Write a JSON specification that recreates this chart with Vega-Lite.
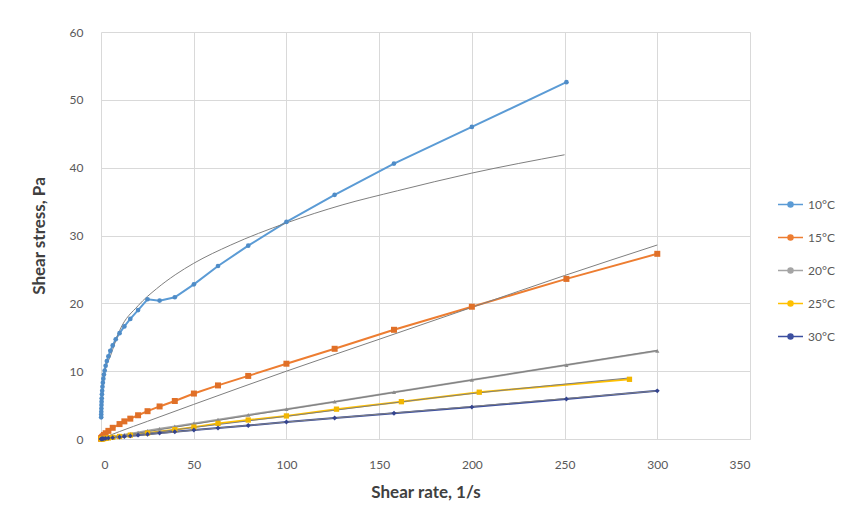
{
  "$schema": "https://vega.github.io/schema/vega-lite/v6.json",
  "width": 649,
  "height": 407,
  "autosize": {"type": "none"},
  "padding": {"left": 101, "top": 32, "right": 113, "bottom": 84},
  "background": "white",
  "config": {
    "view": {"stroke": null},
    "font": "Lato",
    "axis": {
      "gridColor": "#d9d9d9",
      "gridWidth": 1,
      "ticks": false,
      "labelColor": "#595959",
      "labelFont": "Lato",
      "labelFontSize": 12,
      "titleFont": "Lato",
      "titleFontSize": 17,
      "titleFontWeight": "bold",
      "titleColor": "#404040"
    }
  },
  "datasets": {
    "obs": [
      {"s": "10°C", "x": 0.1, "y": 3.2}, {"s": "10°C", "x": 0.126, "y": 3.6}, {"s": "10°C", "x": 0.158, "y": 4.0}, {"s": "10°C", "x": 0.2, "y": 4.5}, {"s": "10°C", "x": 0.251, "y": 5.0}, {"s": "10°C", "x": 0.316, "y": 5.5}, {"s": "10°C", "x": 0.398, "y": 6.0}, {"s": "10°C", "x": 0.501, "y": 6.6}, {"s": "10°C", "x": 0.631, "y": 7.1}, {"s": "10°C", "x": 0.794, "y": 7.7}, {"s": "10°C", "x": 1, "y": 8.3}, {"s": "10°C", "x": 1.26, "y": 8.9}, {"s": "10°C", "x": 1.58, "y": 9.5}, {"s": "10°C", "x": 2, "y": 10.1}, {"s": "10°C", "x": 2.51, "y": 10.8}, {"s": "10°C", "x": 3.16, "y": 11.5}, {"s": "10°C", "x": 3.98, "y": 12.2}, {"s": "10°C", "x": 5.01, "y": 13.0}, {"s": "10°C", "x": 6.31, "y": 13.8}, {"s": "10°C", "x": 7.94, "y": 14.7}, {"s": "10°C", "x": 10, "y": 15.6}, {"s": "10°C", "x": 12.6, "y": 16.6}, {"s": "10°C", "x": 15.8, "y": 17.7}, {"s": "10°C", "x": 20, "y": 19.0}, {"s": "10°C", "x": 25.1, "y": 20.6}, {"s": "10°C", "x": 31.6, "y": 20.4}, {"s": "10°C", "x": 39.8, "y": 20.9}, {"s": "10°C", "x": 50.1, "y": 22.8}, {"s": "10°C", "x": 63.1, "y": 25.5}, {"s": "10°C", "x": 79.4, "y": 28.5}, {"s": "10°C", "x": 100, "y": 32.0}, {"s": "10°C", "x": 126, "y": 36.0}, {"s": "10°C", "x": 158, "y": 40.6}, {"s": "10°C", "x": 200, "y": 46.0}, {"s": "10°C", "x": 251, "y": 52.6},
      {"s": "15°C", "x": 0.1, "y": 0.05}, {"s": "15°C", "x": 0.158, "y": 0.08}, {"s": "15°C", "x": 0.251, "y": 0.12}, {"s": "15°C", "x": 0.398, "y": 0.18}, {"s": "15°C", "x": 0.631, "y": 0.27}, {"s": "15°C", "x": 1, "y": 0.4}, {"s": "15°C", "x": 1.58, "y": 0.6}, {"s": "15°C", "x": 2.51, "y": 0.85}, {"s": "15°C", "x": 3.98, "y": 1.2}, {"s": "15°C", "x": 6.31, "y": 1.65}, {"s": "15°C", "x": 10, "y": 2.2}, {"s": "15°C", "x": 12.6, "y": 2.6}, {"s": "15°C", "x": 15.8, "y": 3.0}, {"s": "15°C", "x": 20, "y": 3.5}, {"s": "15°C", "x": 25.1, "y": 4.1}, {"s": "15°C", "x": 31.6, "y": 4.8}, {"s": "15°C", "x": 39.8, "y": 5.6}, {"s": "15°C", "x": 50.1, "y": 6.7}, {"s": "15°C", "x": 63.1, "y": 7.9}, {"s": "15°C", "x": 79.4, "y": 9.3}, {"s": "15°C", "x": 100, "y": 11.1}, {"s": "15°C", "x": 126, "y": 13.3}, {"s": "15°C", "x": 158, "y": 16.1}, {"s": "15°C", "x": 200, "y": 19.5}, {"s": "15°C", "x": 251, "y": 23.6}, {"s": "15°C", "x": 300, "y": 27.3},
      {"s": "20°C", "x": 0.1, "y": 0.01}, {"s": "20°C", "x": 0.251, "y": 0.02}, {"s": "20°C", "x": 0.631, "y": 0.04}, {"s": "20°C", "x": 1, "y": 0.06}, {"s": "20°C", "x": 1.58, "y": 0.09}, {"s": "20°C", "x": 2.51, "y": 0.14}, {"s": "20°C", "x": 3.98, "y": 0.21}, {"s": "20°C", "x": 6.31, "y": 0.32}, {"s": "20°C", "x": 10, "y": 0.5}, {"s": "20°C", "x": 12.6, "y": 0.62}, {"s": "20°C", "x": 15.8, "y": 0.77}, {"s": "20°C", "x": 20, "y": 0.96}, {"s": "20°C", "x": 25.1, "y": 1.2}, {"s": "20°C", "x": 31.6, "y": 1.5}, {"s": "20°C", "x": 39.8, "y": 1.85}, {"s": "20°C", "x": 50.1, "y": 2.3}, {"s": "20°C", "x": 63.1, "y": 2.85}, {"s": "20°C", "x": 79.4, "y": 3.55}, {"s": "20°C", "x": 100, "y": 4.4}, {"s": "20°C", "x": 126, "y": 5.5}, {"s": "20°C", "x": 158, "y": 6.9}, {"s": "20°C", "x": 200, "y": 8.7}, {"s": "20°C", "x": 251, "y": 10.9}, {"s": "20°C", "x": 300, "y": 13.0},
      {"s": "25°C", "x": 0.1, "y": 0.01}, {"s": "25°C", "x": 0.251, "y": 0.015}, {"s": "25°C", "x": 0.631, "y": 0.03}, {"s": "25°C", "x": 1, "y": 0.045}, {"s": "25°C", "x": 1.58, "y": 0.07}, {"s": "25°C", "x": 2.51, "y": 0.1}, {"s": "25°C", "x": 3.98, "y": 0.16}, {"s": "25°C", "x": 6.31, "y": 0.24}, {"s": "25°C", "x": 10, "y": 0.37}, {"s": "25°C", "x": 15.8, "y": 0.57}, {"s": "25°C", "x": 25.1, "y": 0.88}, {"s": "25°C", "x": 39.8, "y": 1.38}, {"s": "25°C", "x": 50.1, "y": 1.75}, {"s": "25°C", "x": 63.1, "y": 2.3}, {"s": "25°C", "x": 79.4, "y": 2.8}, {"s": "25°C", "x": 100, "y": 3.4}, {"s": "25°C", "x": 127, "y": 4.4}, {"s": "25°C", "x": 162, "y": 5.5}, {"s": "25°C", "x": 204, "y": 6.9}, {"s": "25°C", "x": 285, "y": 8.8},
      {"s": "30°C", "x": 0.1, "y": 0.01}, {"s": "30°C", "x": 0.251, "y": 0.015}, {"s": "30°C", "x": 0.631, "y": 0.03}, {"s": "30°C", "x": 1, "y": 0.04}, {"s": "30°C", "x": 1.58, "y": 0.06}, {"s": "30°C", "x": 2.51, "y": 0.09}, {"s": "30°C", "x": 3.98, "y": 0.13}, {"s": "30°C", "x": 6.31, "y": 0.2}, {"s": "30°C", "x": 10, "y": 0.3}, {"s": "30°C", "x": 12.6, "y": 0.37}, {"s": "30°C", "x": 15.8, "y": 0.46}, {"s": "30°C", "x": 20, "y": 0.57}, {"s": "30°C", "x": 25.1, "y": 0.7}, {"s": "30°C", "x": 31.6, "y": 0.87}, {"s": "30°C", "x": 39.8, "y": 1.07}, {"s": "30°C", "x": 50.1, "y": 1.32}, {"s": "30°C", "x": 63.1, "y": 1.62}, {"s": "30°C", "x": 79.4, "y": 2.0}, {"s": "30°C", "x": 100, "y": 2.5}, {"s": "30°C", "x": 126, "y": 3.1}, {"s": "30°C", "x": 158, "y": 3.8}, {"s": "30°C", "x": 200, "y": 4.7}, {"s": "30°C", "x": 251, "y": 5.9}, {"s": "30°C", "x": 300, "y": 7.1}
    ],
    "fit": [
      {"s": "10°C", "x": 0.1, "y": 4.01}, {"s": "10°C", "x": 0.2, "y": 4.93}, {"s": "10°C", "x": 0.5, "y": 6.5}, {"s": "10°C", "x": 1, "y": 8.0}, {"s": "10°C", "x": 2, "y": 9.85}, {"s": "10°C", "x": 5, "y": 12.17}, {"s": "10°C", "x": 10, "y": 15.96}, {"s": "10°C", "x": 20, "y": 19.65}, {"s": "10°C", "x": 30, "y": 22.16}, {"s": "10°C", "x": 40, "y": 24.2}, {"s": "10°C", "x": 50, "y": 25.9}, {"s": "10°C", "x": 70, "y": 28.6}, {"s": "10°C", "x": 100, "y": 31.85}, {"s": "10°C", "x": 130, "y": 34.5}, {"s": "10°C", "x": 160, "y": 36.6}, {"s": "10°C", "x": 200, "y": 39.2}, {"s": "10°C", "x": 250, "y": 41.9},
      {"s": "15°C", "x": 0.1, "y": 0.013}, {"s": "15°C", "x": 1, "y": 0.12}, {"s": "15°C", "x": 10, "y": 1.1}, {"s": "15°C", "x": 25, "y": 2.6}, {"s": "15°C", "x": 50, "y": 5.1}, {"s": "15°C", "x": 100, "y": 10.0}, {"s": "15°C", "x": 150, "y": 14.7}, {"s": "15°C", "x": 200, "y": 19.4}, {"s": "15°C", "x": 250, "y": 24.1}, {"s": "15°C", "x": 300, "y": 28.6},
      {"s": "20°C", "x": 0.1, "y": 0.005}, {"s": "20°C", "x": 100, "y": 4.35}, {"s": "20°C", "x": 200, "y": 8.7}, {"s": "20°C", "x": 300, "y": 13.05},
      {"s": "25°C", "x": 0.1, "y": 0.005}, {"s": "25°C", "x": 50, "y": 1.7}, {"s": "25°C", "x": 100, "y": 3.35}, {"s": "25°C", "x": 200, "y": 6.7}, {"s": "25°C", "x": 285, "y": 9.0},
      {"s": "30°C", "x": 0.1, "y": 0.004}, {"s": "30°C", "x": 50, "y": 1.3}, {"s": "30°C", "x": 100, "y": 2.5}, {"s": "30°C", "x": 200, "y": 4.8}, {"s": "30°C", "x": 300, "y": 7.1}
    ]
  },
  "encoding": {
    "x": {
      "field": "x", "type": "quantitative",
      "scale": {"domain": [0, 350], "nice": false},
      "axis": {"values": [0, 50, 100, 150, 200, 250, 300, 350], "title": "Shear rate, 1/s", "labelPadding": 20, "titlePadding": 14, "domainColor": "#d9d9d9"}
    },
    "y": {
      "field": "y", "type": "quantitative",
      "scale": {"domain": [0, 60], "nice": false},
      "axis": {"values": [0, 10, 20, 30, 40, 50, 60], "title": "Shear stress, Pa", "labelPadding": 18, "titlePadding": 21, "domain": false}
    }
  },
  "layer": [
    {
      "data": {"name": "obs"},
      "mark": {"type": "line", "strokeWidth": 2},
      "encoding": {
        "color": {
          "field": "s", "type": "nominal",
          "scale": {"domain": ["10°C", "15°C", "20°C", "25°C", "30°C"], "range": ["#5B9BD5", "#ED7D31", "#A5A5A5", "#FFC000", "#3C4FA0"]},
          "legend": {
            "title": null,
            "orient": "none",
            "legendX": 676,
            "legendY": 159,
            "padding": 0,
            "symbolType": "M-1,0L1,0M0.2,0A0.2,0.2,0,1,1,-0.2,0A0.2,0.2,0,1,1,0.2,0Z",
            "symbolSize": 625,
            "symbolStrokeWidth": 1.5,
            "labelFont": "Lato",
            "labelFontSize": 12,
            "labelColor": "#595959",
            "labelOffset": 4,
            "rowPadding": 13,
            "encode": {"symbols": {"update": {"fill": {"scale": "color", "field": "value"}}}}
          }
        }
      }
    },
    {
      "data": {"name": "fit"},
      "mark": {"type": "line", "strokeWidth": 1, "color": "#7f7f7f", "interpolate": "monotone"},
      "encoding": {"detail": {"field": "s", "type": "nominal"}}
    },
    {
      "data": {"name": "obs"},
      "transform": [{"filter": "datum.s == '10°C'"}],
      "mark": {"type": "point", "filled": true, "opacity": 1, "size": 22, "shape": "circle", "color": "#4F8CC7"}
    },
    {
      "data": {"name": "obs"},
      "transform": [{"filter": "datum.s == '15°C'"}],
      "mark": {"type": "point", "filled": true, "opacity": 1, "size": 36, "shape": "square", "color": "#E07028"}
    },
    {
      "data": {"name": "obs"},
      "transform": [{"filter": "datum.s == '20°C'"}],
      "mark": {"type": "point", "filled": true, "opacity": 1, "size": 18, "shape": "triangle-up", "color": "#8C8C8C"}
    },
    {
      "data": {"name": "obs"},
      "transform": [{"filter": "datum.s == '25°C'"}],
      "mark": {"type": "point", "filled": true, "opacity": 1, "size": 28, "shape": "square", "color": "#F2B600"}
    },
    {
      "data": {"name": "obs"},
      "transform": [{"filter": "datum.s == '30°C'"}],
      "mark": {"type": "point", "filled": true, "opacity": 1, "size": 24, "shape": "diamond", "color": "#34448F"}
    }
  ]
}
